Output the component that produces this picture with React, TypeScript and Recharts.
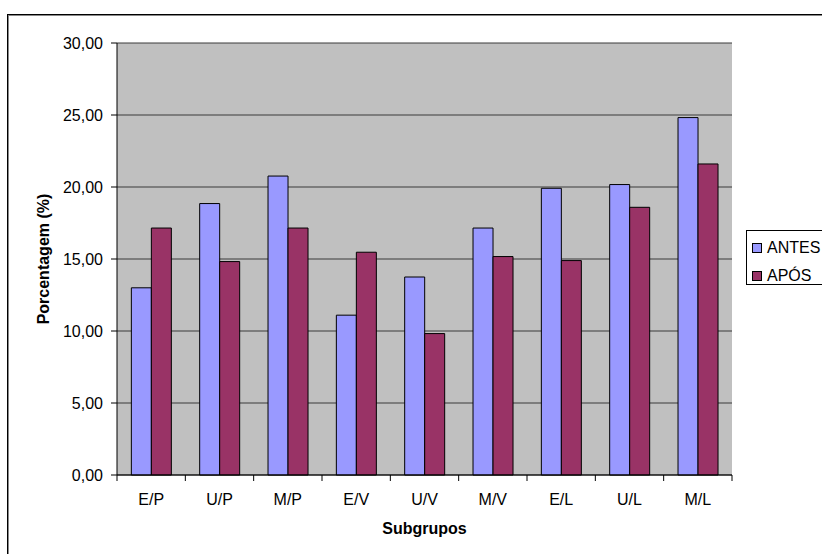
import { Bar, BarChart, CartesianGrid, Legend, XAxis, YAxis } from 'recharts'

// Porcentagem por subgrupo, antes e após

const CATEGORIES = ['E/P', 'U/P', 'M/P', 'E/V', 'U/V', 'M/V', 'E/L', 'U/L', 'M/L']
const ANTES = [13.0, 18.85, 20.76, 11.1, 13.75, 17.15, 19.91, 20.17, 24.82]
const APOS = [17.15, 14.82, 17.15, 15.47, 9.82, 15.17, 14.89, 18.59, 21.6]
const Y_TICKS = [0, 5, 10, 15, 20, 25, 30]

const W = 822
const H = 554
const MARGIN = { top: 43, right: 90, bottom: 18, left: 0 }
const Y_W = 117
const BAND = (W - MARGIN.left - MARGIN.right - Y_W) / CATEGORIES.length
const FONT = '"Liberation Sans", Arial, sans-serif'

const data = CATEGORIES.map((c, i) => ({ cat: c, antes: ANTES[i], apos: APOS[i] }))

const fmt = (v: number) => v.toFixed(2).replace('.', ',')

function XTick(props: any) {
  const { x, y, payload, index } = props
  const last = index === CATEGORIES.length - 1
  return (
    <g>
      <line x1={x - BAND / 2} x2={x - BAND / 2} y1={y} y2={y + 6} stroke="#000" />
      {last && <line x1={x + BAND / 2} x2={x + BAND / 2} y1={y} y2={y + 6} stroke="#000" />}
      <text x={x} y={y + 30} textAnchor="middle" fontSize={16} fill="#000" fontFamily={FONT}>
        {payload.value}
      </text>
    </g>
  )
}

function LegendBox() {
  const items = [
    { label: 'ANTES', color: '#9999FF' },
    { label: 'APÓS', color: '#993366' },
  ]
  return (
    <div
      style={{
        border: '1px solid #000',
        background: '#fff',
        width: 100,
        height: 55,
        boxSizing: 'border-box',
        paddingTop: 5,
        fontFamily: FONT,
        fontSize: 16,
        color: '#000',
      }}
    >
      {items.map((it) => (
        <div key={it.label} style={{ display: 'flex', alignItems: 'center', height: 23, marginBottom: 5 }}>
          <span
            style={{
              display: 'inline-block',
              width: 10,
              height: 10,
              boxSizing: 'border-box',
              border: '1px solid #000',
              background: it.color,
              marginLeft: 5,
              marginRight: 5,
            }}
          />
          <span style={{ whiteSpace: 'nowrap' }}>{it.label}</span>
        </div>
      ))}
    </div>
  )
}

export default function App() {
  return (
    <div
      style={{
        position: 'fixed',
        left: 0,
        top: 0,
        width: W,
        height: H,
        overflow: 'hidden',
        background: '#fff',
        fontFamily: FONT,
      }}
    >
      <div
        style={{
          position: 'absolute',
          left: 7,
          top: 14,
          width: 900,
          height: 700,
          border: '1px solid #000',
          boxShadow: '1px 1px 0 #888 inset',
        }}
      />
      <div style={{ position: 'absolute', left: 0, top: 0 }}>
        <BarChart width={W} height={H} data={data} margin={MARGIN} barCategoryGap="21%" barGap={0}>
          <CartesianGrid vertical={false} fill="#C0C0C0" stroke="#3a3a3a" />
          <XAxis
            dataKey="cat"
            height={61}
            axisLine={{ stroke: '#000' }}
            tickLine={false}
            tickSize={0}
            tickMargin={0}
            interval={0}
            tick={<XTick />}
            label={{
              value: 'Subgrupos',
              position: 'insideBottom',
              offset: 2,
              style: { fontWeight: 'bold', fontSize: 16, fill: '#000', fontFamily: FONT },
            }}
          />
          <YAxis
            width={Y_W}
            domain={[0, 30]}
            ticks={Y_TICKS}
            tickFormatter={fmt}
            tickSize={6}
            tickMargin={8}
            axisLine={{ stroke: '#000' }}
            tickLine={{ stroke: '#000' }}
            tick={{ fontSize: 16, fill: '#000', fontFamily: FONT }}
            label={{
              value: 'Porcentagem (%)',
              angle: -90,
              position: 'insideLeft',
              offset: 43,
              style: { textAnchor: 'middle', fontWeight: 'bold', fontSize: 16, fill: '#000', fontFamily: FONT },
            }}
          />
          <YAxis
            yAxisId="right"
            orientation="right"
            width={0}
            domain={[0, 30]}
            tick={false}
            tickLine={false}
            axisLine={{ stroke: '#808080' }}
          />
          <Legend
            layout="horizontal"
            verticalAlign="middle"
            align="center"
            content={<LegendBox />}
            wrapperStyle={{ left: 746, top: 230, width: 100 }}
          />
          <Bar dataKey="antes" name="ANTES" fill="#9999FF" stroke="#000" strokeWidth={1} isAnimationActive={false} />
          <Bar dataKey="apos" name="APÓS" fill="#993366" stroke="#000" strokeWidth={1} isAnimationActive={false} />
        </BarChart>
      </div>
    </div>
  )
}
